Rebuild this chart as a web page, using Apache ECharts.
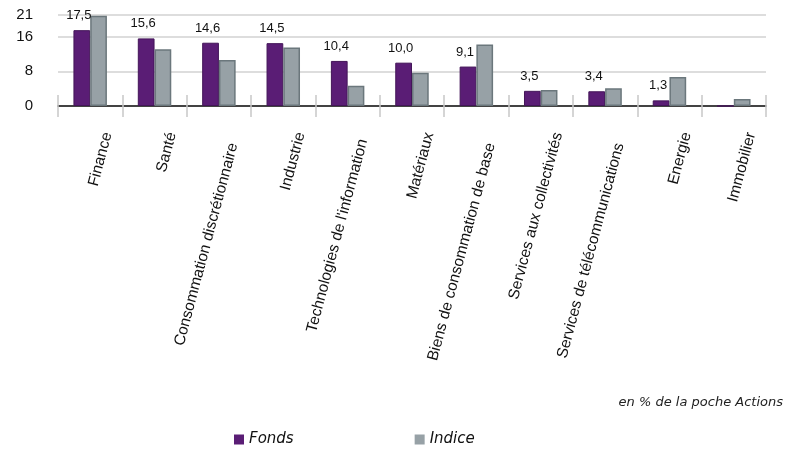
<!DOCTYPE html>
<html>
<head>
<meta charset="utf-8">
<script src="https://cdn.jsdelivr.net/npm/echarts@6/dist/echarts.min.js"></script>
<style>html,body{margin:0;padding:0;background:#fff}#c{width:801px;height:450px}</style>
</head>
<body>
<div id="c"></div>
<script>
var categories = ["Finance","Santé","Consommation discrétionnaire","Industrie","Technologies de l'information","Matériaux","Biens de consommation de base","Services aux collectivités","Services de télécommunications","Energie","Immobilier"];
var fonds = [17.5,15.6,14.6,14.5,10.4,10.0,9.1,3.5,3.4,1.3,0];
var indice = [20.8,13.1,10.6,13.5,4.7,7.7,14.2,3.7,4.1,6.7,1.6];
var yMin = 0, yMax = 21, yInterval = 8;

// per-label style nudges (layout only)
var labelStyleKey = ['s','s','l','s','m','s','l','s','l','s','s'];

var chart = echarts.init(document.getElementById('c'), null, {renderer:'canvas'});
chart.setOption({
  animation:false,
  backgroundColor:'#fff',
  title:{text:'en % de la poche Actions', right:18, top:396, padding:0,
    textStyle:{fontFamily:'DejaVu Sans', fontStyle:'italic', fontWeight:'normal', fontSize:13, color:'#222'}},
  legend:{left:234, top:432, padding:0, itemWidth:10, itemHeight:10, itemGap:121, icon:'rect',
    textStyle:{fontFamily:'DejaVu Sans', fontStyle:'italic', fontSize:15, color:'#111'},
    data:[{name:'Fonds', itemStyle:{borderWidth:0}},{name:'Indice', itemStyle:{borderWidth:0}}]},
  grid:{left:58, right:35, top:15, bottom:344, containLabel:false},
  xAxis:[{
    type:'category', data:categories, position:'bottom',
    axisLine:{lineStyle:{color:'#111', width:1.5}},
    axisTick:{show:true, interval:0, length:11, lineStyle:{color:'#c8c8c8', width:1.5}},
    axisLabel:{rotate:75, interval:0, margin:22, fontFamily:'Liberation Sans', fontSize:15.5, color:'#111',
      verticalAlign:'top', padding:[10,0,0,0],
      formatter:function(v, i){ return '{' + labelStyleKey[i] + '|' + v + '}'; },
      rich:{
        s:{fontFamily:'Liberation Sans', fontSize:15.5, color:'#111'},
        m:{fontFamily:'Liberation Sans', fontSize:15.5, color:'#111', padding:[0,7,0,0]},
        l:{fontFamily:'Liberation Sans', fontSize:15.5, color:'#111', padding:[0,11,0,0]}
      }}
  },{
    type:'category', data:categories, position:'bottom',
    axisLine:{show:false},
    axisTick:{show:true, interval:0, inside:true, length:11, lineStyle:{color:'#c8c8c8', width:1.5}},
    axisLabel:{show:false}
  }],
  yAxis:{type:'value', min:yMin, max:yMax, interval:yInterval,
    axisLine:{show:false}, axisTick:{show:false},
    axisLabel:{margin:25, fontFamily:'Liberation Sans', fontSize:15, color:'#111'},
    splitLine:{lineStyle:{color:'#d2d2d2', width:1.5}}},
  series:[{
    name:'Fonds', type:'bar', data:fonds, barGap:'0%', barCategoryGap:'48%', xAxisIndex:0,
    itemStyle:{color:'#5a1d75', borderColor:'#431558', borderWidth:1},
    label:{show:true, position:'top', distance:8, offset:[-3,0], fontFamily:'Liberation Sans', fontSize:13, color:'#111',
      formatter:function(p){return p.value ? p.value.toFixed(1).replace('.',',') : '';}}
  },{
    name:'Indice', type:'bar', data:indice, xAxisIndex:0,
    itemStyle:{color:'#97a1a6', borderColor:'#6b777c', borderWidth:1.5}
  }]
});
</script>
</body>
</html>
